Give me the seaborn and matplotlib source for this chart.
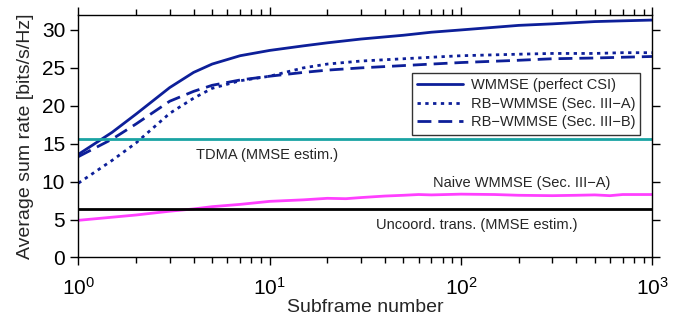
import numpy as np
import pandas as pd
import matplotlib
matplotlib.use("Agg")
import matplotlib.pyplot as plt
import seaborn as sns
from matplotlib.ticker import LogLocator, NullFormatter

subframes = [1, 1.5, 2, 3, 4, 5, 7, 10, 15, 20, 30, 50, 70, 100, 200, 300, 500, 700, 1000]
wmmse_perfect = [13.6, 16.5, 18.9, 22.4, 24.4, 25.5, 26.6, 27.3, 27.9, 28.3, 28.8, 29.3, 29.7, 30.0, 30.6, 30.8, 31.1, 31.2, 31.3]
rb_wmmse_a = [9.8, 12.8, 15.1, 19.0, 21.0, 22.3, 23.3, 23.9, 25.0, 25.5, 25.9, 26.2, 26.4, 26.6, 26.8, 26.9, 26.9, 27.0, 27.0]
rb_wmmse_b = [13.3, 15.6, 17.6, 20.6, 21.9, 22.7, 23.4, 23.9, 24.4, 24.7, 25.0, 25.3, 25.5, 25.7, 26.0, 26.2, 26.3, 26.4, 26.5]
naive_x = [1, 2, 3, 4, 5, 7, 10, 15, 20, 25, 30, 40, 50, 60, 70, 100, 150, 200, 300, 400, 500, 600, 700, 1000]
naive_wmmse = [4.9, 5.6, 6.1, 6.4, 6.7, 7.0, 7.4, 7.6, 7.8, 7.75, 7.9, 8.1, 8.2, 8.3, 8.25, 8.35, 8.3, 8.2, 8.15, 8.2, 8.25, 8.15, 8.3, 8.3]
tdma_rate = 15.6
uncoord_rate = 6.4

legend_labels = ["WMMSE (perfect CSI)", "RB\u2212WMMSE (Sec. III\u2212A)", "RB\u2212WMMSE (Sec. III\u2212B)"]

sns.set_style("ticks")
plt.rcParams['font.family'] = ['Liberation Sans', 'DejaVu Sans']

fig, ax = plt.subplots(figsize=(6.94, 3.28), dpi=100)
fig.subplots_adjust(left=0.113, right=0.94, top=0.955, bottom=0.215)

navy = "#0d1f99"
df = pd.DataFrame({"x": subframes, "a": wmmse_perfect, "b": rb_wmmse_a, "c": rb_wmmse_b})
sns.lineplot(data=df, x="x", y="a", ax=ax, color=navy, lw=2.0, label=legend_labels[0])
sns.lineplot(data=df, x="x", y="b", ax=ax, color=navy, lw=2.0, label=legend_labels[1])
sns.lineplot(data=df, x="x", y="c", ax=ax, color=navy, lw=2.0, label=legend_labels[2])
lines = ax.get_lines()
lines[1].set_linestyle((0, (1.2, 1.6)))
lines[2].set_linestyle((0, (5, 2.5)))

dn = pd.DataFrame({"x": naive_x, "y": naive_wmmse})
sns.lineplot(data=dn, x="x", y="y", ax=ax, color="#ff40ff", lw=2.0, legend=False)
ax.axhline(tdma_rate, color="#1aa3a3", lw=2.0)
ax.axhline(uncoord_rate, color="black", lw=2.0)

ax.set_xscale("log")
ax.set_xlim(1, 1000)
ax.set_ylim(0, 32)
ax.set_yticks([0, 5, 10, 15, 20, 25, 30])
ax.xaxis.set_major_locator(LogLocator(base=10, numticks=10))
ax.xaxis.set_minor_locator(LogLocator(base=10, subs=np.arange(2, 10), numticks=10))
ax.xaxis.set_minor_formatter(NullFormatter())

for s in ax.spines.values():
    s.set_visible(True)
    s.set_linewidth(1.0)
    s.set_color("black")
ax.tick_params(which="both", direction="out", top=True, right=True, labelsize=15, colors="black", width=1.0)
ax.tick_params(which="major", length=6)
ax.tick_params(which="minor", length=4)
ax.tick_params(axis="x", pad=8)

ax.set_xlabel("Subframe number", fontsize=14, labelpad=0)
ax.set_ylabel("Average sum rate [bits/s/Hz]", fontsize=14, labelpad=6)

ax.text(0.204, 0.395, "TDMA (MMSE estim.)", transform=ax.transAxes, fontsize=10.5, va="bottom")
ax.text(0.617, 0.278, "Naive WMMSE (Sec. III\u2212A)", transform=ax.transAxes, fontsize=10.5, va="bottom")
ax.text(0.519, 0.105, "Uncoord. trans. (MMSE estim.)", transform=ax.transAxes, fontsize=10.5, va="bottom")

leg = ax.legend(loc="upper right", bbox_to_anchor=(0.979, 0.76), borderaxespad=0, fontsize=10.5, frameon=True,
                fancybox=False, edgecolor="black", handlelength=3.2, borderpad=0.35, labelspacing=0.32,
                handletextpad=0.5)
leg.get_frame().set_linewidth(1.0)

fig.savefig("out.png", dpi=100)
